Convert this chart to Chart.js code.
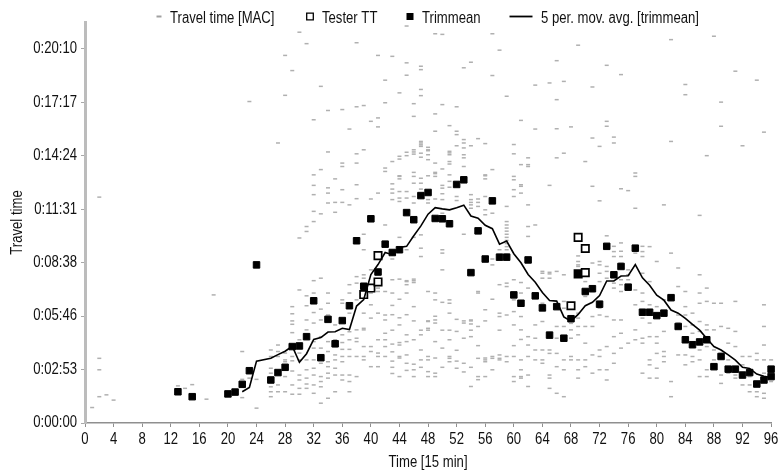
<!DOCTYPE html>
<html>
<head>
<meta charset="utf-8">
<script src="https://cdn.jsdelivr.net/npm/chart.js@4/dist/chart.umd.min.js"></script>
<style>
  html, body { margin: 0; padding: 0; background: #ffffff; }
  #wrap { width: 778px; height: 473px; }
</style>
</head>
<body>
<div id="wrap"><canvas id="chart" width="778" height="473"></canvas></div>
<script>
// Travel time per 15-minute period (values in seconds).

// Individual MAC travel-time observations, grouped by period.
const macPeriods = [1, 2, 3, 4, 13, 14, 15, 17, 18, 22, 23, 24,
  26, 27, 28, 29, 30, 31, 32, 33, 34, 35, 36, 37, 38, 39, 40, 41, 42, 43, 44, 45,
  46, 47, 48, 49, 50, 51, 52, 53, 54, 55, 56, 57, 58, 59, 60, 61, 62, 63, 64, 65,
  66, 67, 68, 69, 70, 71, 72, 73, 74, 75, 76, 77, 78, 79, 80, 81, 82, 83, 84, 85,
  86, 87, 88, 89, 90, 91, 92, 93, 94, 95, 96];
const macSeconds = [
  [50], [730, 209, 172, 85], [91], [74], [120], [112], [124], [77], [414],
  [231, 141, 82], [1039, 145], [141, 48],
  [236, 215, 177, 161, 117, 101, 85],
  [905, 252, 231, 215, 123, 101],
  [1188, 1059, 226, 204, 198, 150, 101],
  [1139, 376, 353, 330, 319, 292, 245, 215, 201, 168, 123, 93],
  [1263, 598, 430, 269, 226, 204, 155, 139, 112, 93],
  [1226, 635, 619, 411, 379, 333, 301, 277, 204, 172, 145, 126, 112],
  [980, 802, 768, 738, 684, 651, 460, 420, 357, 323, 263, 242, 204, 177, 155, 123, 96],
  [1088, 819, 676, 468, 368, 333, 279, 242, 193, 150, 134, 117, 64],
  [1010, 876, 760, 743, 711, 420, 387, 349, 263, 231, 198, 182, 161, 145, 80],
  [789, 713, 681, 317, 269, 247, 220, 204, 177, 155, 101],
  [1013, 840, 829, 754, 713, 398, 387, 285, 260, 238, 215, 198, 155, 139],
  [950, 705, 447, 420, 376, 355, 295, 269, 238, 215, 155, 134, 101],
  [1229, 1022, 870, 840, 770, 725, 473, 452, 398, 301, 274, 263, 215, 150],
  [1026, 883, 610, 560, 479, 468, 425, 355, 306, 301, 247, 215, 204],
  [975, 724, 495, 430, 420, 382, 339, 247, 231, 182],
  [1188, 986, 957, 743, 495, 436, 425, 355, 269, 226, 215, 182],
  [1108, 1035, 824, 813, 640, 425, 349, 333, 290, 269, 247, 215],
  [1185, 845, 773, 756, 743, 722, 530, 463, 420, 380, 350, 300, 255, 230, 200, 180, 160],
  [1067, 862, 853, 799, 797, 789, 748, 727, 716, 600, 465, 400, 340, 317, 260, 252, 215, 210, 150],
  [1283, 1164, 1124, 875, 864, 748, 727, 560, 460, 457, 447, 420, 350, 285, 263, 220, 193, 170],
  [1032, 991, 883, 876, 869, 810, 797, 775, 732, 711, 600, 465, 460, 454, 376, 330, 269, 190, 172, 150],
  [1153, 1142, 1078, 1058, 910, 905, 899, 894, 872, 859, 791, 775, 756, 608, 565, 538, 300, 285, 236, 204, 180],
  [891, 883, 880, 867, 851, 799, 722, 711, 425, 330, 328, 306, 300, 215, 204, 166, 150],
  [1258, 999, 943, 840, 810, 806, 797, 724, 420, 398, 345, 333, 323, 263, 210, 161, 150],
  [1256, 1029, 821, 768, 759, 741, 722, 678, 560, 549, 495, 390, 300, 242, 180],
  [961, 878, 873, 867, 845, 837, 802, 781, 762, 398, 387, 355, 300, 269, 215, 209, 198],
  [1022, 943, 932, 896, 732, 719, 335, 296, 235, 200, 177],
  [1148, 916, 905, 889, 867, 857, 829, 610, 330, 323, 274, 193, 165],
  [1166, 896, 738, 722, 713, 705, 694, 333, 330, 320, 300, 279, 180, 118],
  [919, 724, 713, 700, 425, 420, 312, 250, 209, 150, 140],
  [903, 802, 799, 789, 732, 689, 673, 366, 330, 210, 204, 198, 150],
  [1258, 1123, 819, 711, 678, 530, 511, 400, 215, 209, 172],
  [1205, 560, 447, 355, 344, 300, 220, 209, 204],
  [1056, 700, 651, 640, 630, 620, 610, 600, 590, 580, 570, 560, 545, 452, 441, 349, 215, 198],
  [900, 870, 797, 786, 754, 732, 463, 398, 360, 317, 250, 215, 150, 134],
  [978, 835, 770, 765, 743, 454, 420, 344, 301, 270, 204, 172, 150, 145],
  [857, 835, 829, 705, 635, 603, 436, 279, 252, 215, 155, 118],
  [1092, 950, 640, 317, 274, 236, 204],
  [490, 484, 468, 387, 328, 236, 204, 193],
  [1099, 768, 487, 482, 468, 236, 225, 155, 145, 112],
  [1171, 1045, 951, 857, 490, 312, 274, 225, 182, 96],
  [1104, 872, 479, 393, 371, 312, 204, 172, 85],
  [957, 322, 301, 274, 215, 204],
  [1221, 540, 522, 511, 506, 355, 339, 312, 285, 204, 172, 145],
  [845, 457, 409, 312, 258, 204, 182],
  [1086, 921, 765, 517, 436, 425, 344, 312, 220, 161],
  [894, 718, 522, 511, 484, 457, 371, 349, 236, 215, 172],
  [1156, 975, 959, 605, 506, 490, 468, 344, 247, 172, 139],
  [924, 905, 571, 554, 538, 452, 436, 333, 279, 225, 193],
  [1126, 757, 582, 555, 538, 516, 463, 447, 425, 333, 290, 242],
  [751, 495, 479, 463, 430, 258],
  [808, 797, 694, 549, 430, 382, 301, 269],
  [571, 554, 538, 484, 420, 393, 339, 274, 258, 161],
  [570, 457, 382, 323, 279, 204, 188, 145],
  [522, 376, 344, 279, 258, 225, 177, 145],
  [705, 398, 355, 296, 231, 215, 198],
  [1239, 910, 549, 134, 85],
  [501, 441, 349, 323, 220],
  [1094, 1061, 425, 376, 349, 312, 220, 188],
  [355, 317, 290, 258, 215, 198],
  [671, 479, 420, 387, 328, 296, 236, 204, 150],
  [864, 436, 393, 317, 301, 279, 247, 172, 150],
  [1250, 387, 301, 236, 204],
  [1037, 959, 387, 312, 225, 209, 155, 128],
  [306, 258, 204, 161],
  [1137, 393, 296, 247, 155, 145],
  [896, 215, 188, 123],
  [215, 150, 123, 101],
  [1108, 225, 204, 134, 101, 85],
  [940, 382, 312, 252, 204, 161, 134, 96, 80],
  [204, 172, 134]
];

// Reference runs of the test vehicle.
const testerPeriods = [39, 40, 41, 41, 68, 69, 69, 70, 70];
const testerSeconds = [415, 436, 456, 541, 379, 600, 482, 564, 486];

// Trimmed mean per period.
const trimPeriods = [13, 15, 20, 21, 22, 23, 24, 26, 27, 28, 29, 30, 31, 32, 33, 34,
  35, 36, 37, 38, 39, 40, 41, 42, 43, 44, 45, 46, 47, 48, 49, 50, 51, 52, 53, 54,
  55, 56, 57, 58, 59, 60, 61, 62, 63, 64, 65, 66, 67, 68, 69, 70, 71, 72, 73, 74,
  75, 76, 77, 78, 79, 80, 81, 82, 83, 84, 85, 86, 87, 88, 89, 90, 91, 92, 93, 94,
  95, 96, 96];
const trimSeconds = [101, 85, 94, 100, 125, 169, 511, 139, 163, 180, 247, 249, 279, 395, 211, 335,
  256, 331, 379, 589, 442, 660, 488, 578, 551, 560, 680, 657, 735, 745, 661, 660, 644, 771, 786, 486,
  621, 530, 718, 536, 536, 414, 387, 527, 411, 372, 284, 376, 274, 337, 482, 425, 434, 384, 571, 479,
  506, 439, 565, 358, 358, 347, 355, 405, 312, 269, 253, 262, 269, 182, 215, 174, 174, 155, 163, 126,
  139, 150, 174];

// 5-period moving average of the trimmed mean.
const movAvgPeriods = [22, 23, 24, 26, 27, 28, 29, 30, 31, 32, 33, 34, 35, 36, 37, 38,
  39, 40, 41, 42, 43, 44, 45, 46, 47, 48, 49, 50, 51, 52, 53, 54, 55, 56, 57, 58,
  59, 60, 61, 62, 63, 64, 65, 66, 67, 68, 69, 70, 71, 72, 73, 74, 75, 76, 77, 78,
  79, 80, 81, 82, 83, 84, 85, 86, 87, 88, 89, 90, 91, 92, 93, 94, 95, 96];
const movAvgSeconds = [101, 115, 200, 209, 221, 232, 248, 196, 224, 270, 276, 294, 295, 306, 302, 378,
  399, 480, 512, 551, 544, 567, 571, 605, 637, 675, 696, 692, 689, 696, 704, 669, 662, 639, 628, 578,
  588, 547, 518, 480, 455, 422, 396, 394, 343, 329, 351, 379, 390, 412, 459, 459, 475, 476, 512, 469,
  445, 413, 397, 365, 355, 338, 319, 300, 273, 247, 236, 220, 203, 180, 176, 158, 151, 147];

// Axis ticks.
const xTickValues = [0, 4, 8, 12, 16, 20, 24, 28, 32, 36, 40, 44, 48, 52, 56, 60, 64, 68, 72, 76, 80, 84, 88, 92, 96];
const yTickValues = [0, 172.8, 345.6, 518.4, 691.2, 864, 1036.8, 1209.6];
const yTickLabels = ['0:00:00', '0:02:53', '0:05:46', '0:08:38', '0:11:31', '0:14:24', '0:17:17', '0:20:10'];

const FONT_FAMILY = "'Liberation Sans', Arial, sans-serif";
const TEXT_COLOR = '#111111';
// Horizontal squeeze that gives the regular face a narrow look.
const TEXT_SQUEEZE = 0.82;

const pairs = (xs, ys) => xs.map((x, i) => ({ x: x, y: ys[i] }));
const macPoints = macPeriods.flatMap((p, i) => macSeconds[i].map(v => ({ x: p, y: v })));

// Draw every label condensed around its own anchor point.
const narrowText = {
  id: 'narrowText',
  beforeInit(chart) {
    const ctx = chart.ctx;
    const plainFill = ctx.fillText.bind(ctx);
    ctx.fillText = function (text, x, y) {
      ctx.save();
      ctx.translate(x, y);
      ctx.scale(TEXT_SQUEEZE, 1);
      plainFill(text, 0, 0);
      ctx.restore();
    };
  }
};

// Series key drawn across the top, one entry per dataset.
const keyLayout = [
  { marker: 'dash', markerX: 159, textX: 170 },
  { marker: 'box', markerX: 310, textX: 322 },
  { marker: 'solid', markerX: 410, textX: 422 },
  { marker: 'line', markerX: 521, textX: 541 }
];
const seriesKey = {
  id: 'seriesKey',
  afterDraw(chart) {
    const ctx = chart.ctx;
    const cy = 16.5;
    ctx.save();
    chart.data.datasets.forEach((ds, i) => {
      const k = keyLayout[i];
      if (!k) return;
      if (k.marker === 'dash') {
        ctx.strokeStyle = '#a0a0a0'; ctx.lineWidth = 2;
        ctx.beginPath(); ctx.moveTo(k.markerX - 2.5, cy); ctx.lineTo(k.markerX + 2.5, cy); ctx.stroke();
      } else if (k.marker === 'box') {
        ctx.strokeStyle = '#000'; ctx.lineWidth = 1.3; ctx.fillStyle = '#fff';
        ctx.beginPath(); ctx.rect(k.markerX - 3.3, cy - 3.3, 6.6, 6.6); ctx.fill(); ctx.stroke();
      } else if (k.marker === 'solid') {
        ctx.fillStyle = '#000';
        ctx.fillRect(k.markerX - 3.5, cy - 3.5, 7, 7);
      } else {
        ctx.strokeStyle = '#000'; ctx.lineWidth = 1.8;
        ctx.beginPath(); ctx.moveTo(k.markerX - 11.5, cy); ctx.lineTo(k.markerX + 11.5, cy); ctx.stroke();
      }
      ctx.fillStyle = TEXT_COLOR;
      ctx.font = '16px ' + FONT_FAMILY;
      ctx.textBaseline = 'alphabetic';
      ctx.textAlign = 'left';
      ctx.fillText(ds.label, k.textX, 22.5);
    });
    ctx.restore();
  }
};

const tickFont = { family: FONT_FAMILY, size: 16 };

new Chart(document.getElementById('chart'), {
  type: 'scatter',
  data: {
    datasets: [
      {
        label: 'Travel time [MAC]',
        data: macPoints,
        pointStyle: 'line',
        pointRadius: 2,
        pointBorderWidth: 1.5,
        pointBorderColor: '#b0b0b0',
        pointBackgroundColor: '#b0b0b0',
        showLine: false,
        clip: false,
        order: 4
      },
      {
        label: 'Tester TT',
        data: pairs(testerPeriods, testerSeconds),
        pointStyle: 'rect',
        pointRadius: 5.2,
        pointBorderWidth: 1.7,
        pointBorderColor: '#000000',
        pointBackgroundColor: '#ffffff',
        showLine: false,
        clip: false,
        order: 3
      },
      {
        label: 'Trimmean',
        data: pairs(trimPeriods, trimSeconds),
        pointStyle: 'rect',
        pointRadius: 4.6,
        pointBorderWidth: 1,
        pointBorderColor: '#000000',
        pointBackgroundColor: '#000000',
        showLine: false,
        clip: false,
        order: 2
      },
      {
        label: '5 per. mov. avg. [trimmean]',
        data: pairs(movAvgPeriods, movAvgSeconds),
        showLine: true,
        borderColor: '#000000',
        borderWidth: 1.6,
        pointRadius: 0,
        tension: 0,
        fill: false,
        order: 1
      }
    ]
  },
  options: {
    responsive: false,
    devicePixelRatio: 1,
    animation: false,
    events: [],
    layout: { padding: { top: 22, right: 5, bottom: 0, left: 0 } },
    plugins: {
      legend: { display: false },
      tooltip: { enabled: false }
    },
    scales: {
      x: {
        type: 'linear',
        min: 0,
        max: 96,
        afterBuildTicks(scale) { scale.ticks = xTickValues.map(v => ({ value: v })); },
        afterFit(scale) { scale.height = 50; scale.paddingLeft = 0; scale.paddingRight = 0; },
        ticks: { autoSkip: false, maxRotation: 0, font: tickFont, color: TEXT_COLOR, padding: 3 },
        grid: { drawOnChartArea: false, drawTicks: true, tickLength: 4, color: '#8f8f8f', lineWidth: 1 },
        border: { display: true, color: '#8f8f8f', width: 1.5 },
        title: { display: true, text: 'Time [15 min]', font: tickFont, color: TEXT_COLOR, padding: { top: 0, bottom: 1 } }
      },
      y: {
        type: 'linear',
        min: 0,
        max: 1296,
        afterBuildTicks(scale) { scale.ticks = yTickValues.map(v => ({ value: v })); },
        afterFit(scale) { scale.width = 85; scale.paddingTop = 0; scale.paddingBottom = 0; },
        ticks: {
          autoSkip: false,
          font: tickFont,
          color: TEXT_COLOR,
          padding: 4,
          callback: (value, index) => yTickLabels[index]
        },
        grid: { drawOnChartArea: false, drawTicks: true, tickLength: 4, color: '#a8a8a8', lineWidth: 1 },
        border: { display: true, color: '#bcbcbc', width: 3 },
        title: { display: true, text: 'Travel time', font: tickFont, color: TEXT_COLOR, padding: { top: 8, bottom: 0 } }
      }
    }
  },
  plugins: [narrowText, seriesKey]
});
</script>
</body>
</html>
